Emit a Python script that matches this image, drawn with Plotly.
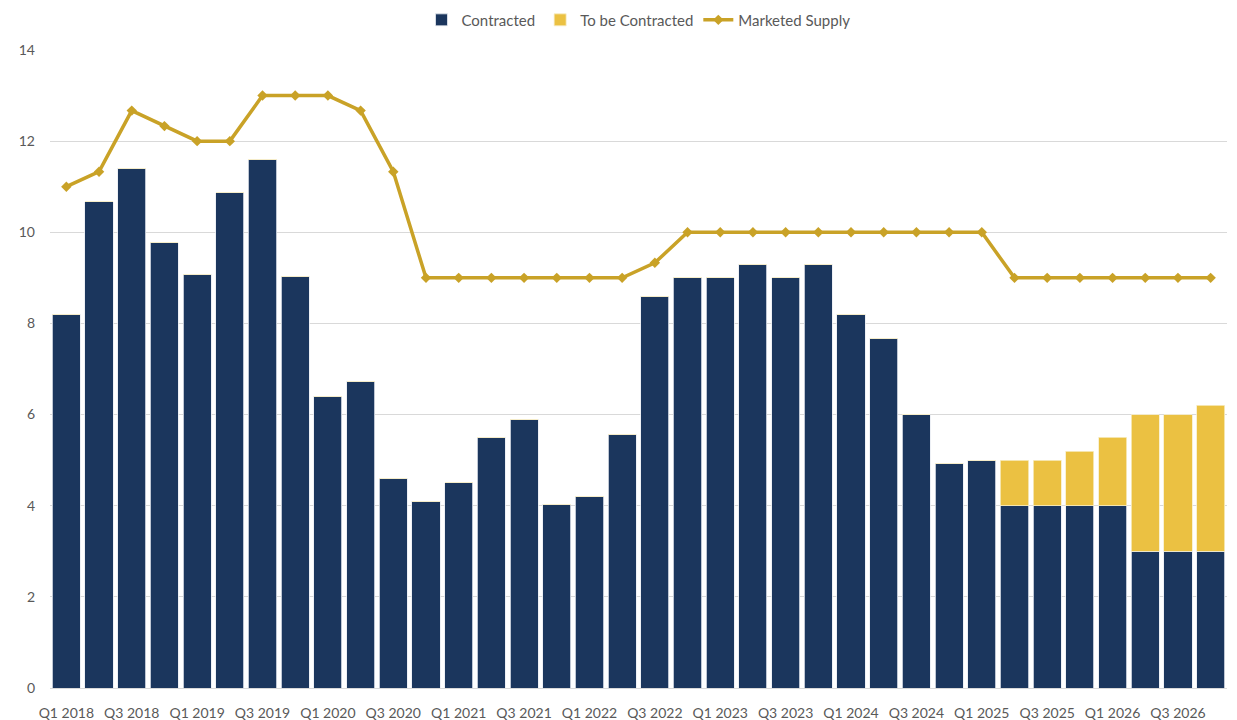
import plotly.graph_objects as go

quarters = [f"Q{q} {y}" for y in range(2018, 2027) for q in range(1, 5)]

contracted = [8.2, 10.67, 11.4, 9.77, 9.08, 10.87, 11.6, 9.03,
              6.4, 6.73, 4.6, 4.1, 4.5, 5.5, 5.9, 4.03,
              4.2, 5.57, 8.6, 9.0, 9.0, 9.3, 9.0, 9.3,
              8.2, 7.67, 6.0, 4.93, 5.0, 4.0, 4.0, 4.0,
              4.0, 3.0, 3.0, 3.0]
to_be_contracted = [0]*29 + [1.0, 1.0, 1.2, 1.5, 3.0, 3.0, 3.2]
marketed_supply = [11.0, 11.33, 12.67, 12.33, 12.0, 12.0, 13.0, 13.0,
                   13.0, 12.67, 11.33, 9.0, 9.0, 9.0, 9.0, 9.0,
                   9.0, 9.0, 9.33, 10.0, 10.0, 10.0, 10.0, 10.0,
                   10.0, 10.0, 10.0, 10.0, 10.0, 9.0, 9.0, 9.0,
                   9.0, 9.0, 9.0, 9.0]
tick_labels = quarters[::2]

fig = go.Figure()
fig.add_trace(go.Bar(x=quarters, y=contracted, name="Contracted",
                     marker=dict(color="#1B365D", line=dict(color="#E8ECF2", width=0.8))))
fig.add_trace(go.Bar(x=quarters, y=to_be_contracted, name="To be Contracted",
                     marker=dict(color="#EBC142", line=dict(color="#F8EDC8", width=0.8))))
fig.add_trace(go.Scatter(x=quarters, y=marketed_supply, name="Marketed Supply",
                         mode="lines+markers",
                         line=dict(color="#C9A227", width=3.5),
                         marker=dict(symbol="diamond", size=8, color="#C9A227")))

fig.update_layout(
    width=1237, height=720,
    barmode="stack", bargap=0.14,
    paper_bgcolor="white", plot_bgcolor="white",
    margin=dict(l=50, r=10, t=50, b=32, autoexpand=False),
    font=dict(family="Lato, Open Sans, sans-serif", size=14, color="#595959"),
    legend=dict(orientation="h", x=0.5, xanchor="center", y=0.995, yanchor="top",
                yref="container", font=dict(size=15, color="#595959"),
                traceorder="normal"),
    showlegend=True,
)
fig.update_xaxes(type="category", range=[-0.5, len(quarters) - 0.5],
                 tickmode="array", tickvals=tick_labels, ticktext=tick_labels,
                 showgrid=False, showline=True, linecolor="#D9D9D9", ticks="",
                 ticklabelstandoff=12, tickangle=0, tickfont=dict(size=14), automargin=False)
fig.update_yaxes(range=[0, 14], dtick=2, showgrid=True, gridcolor="#D9D9D9", gridwidth=1,
                 zeroline=False, showline=False, ticks="", ticklabelstandoff=14,
                 tickfont=dict(size=14), automargin=False)

fig.write_html("out.html")
